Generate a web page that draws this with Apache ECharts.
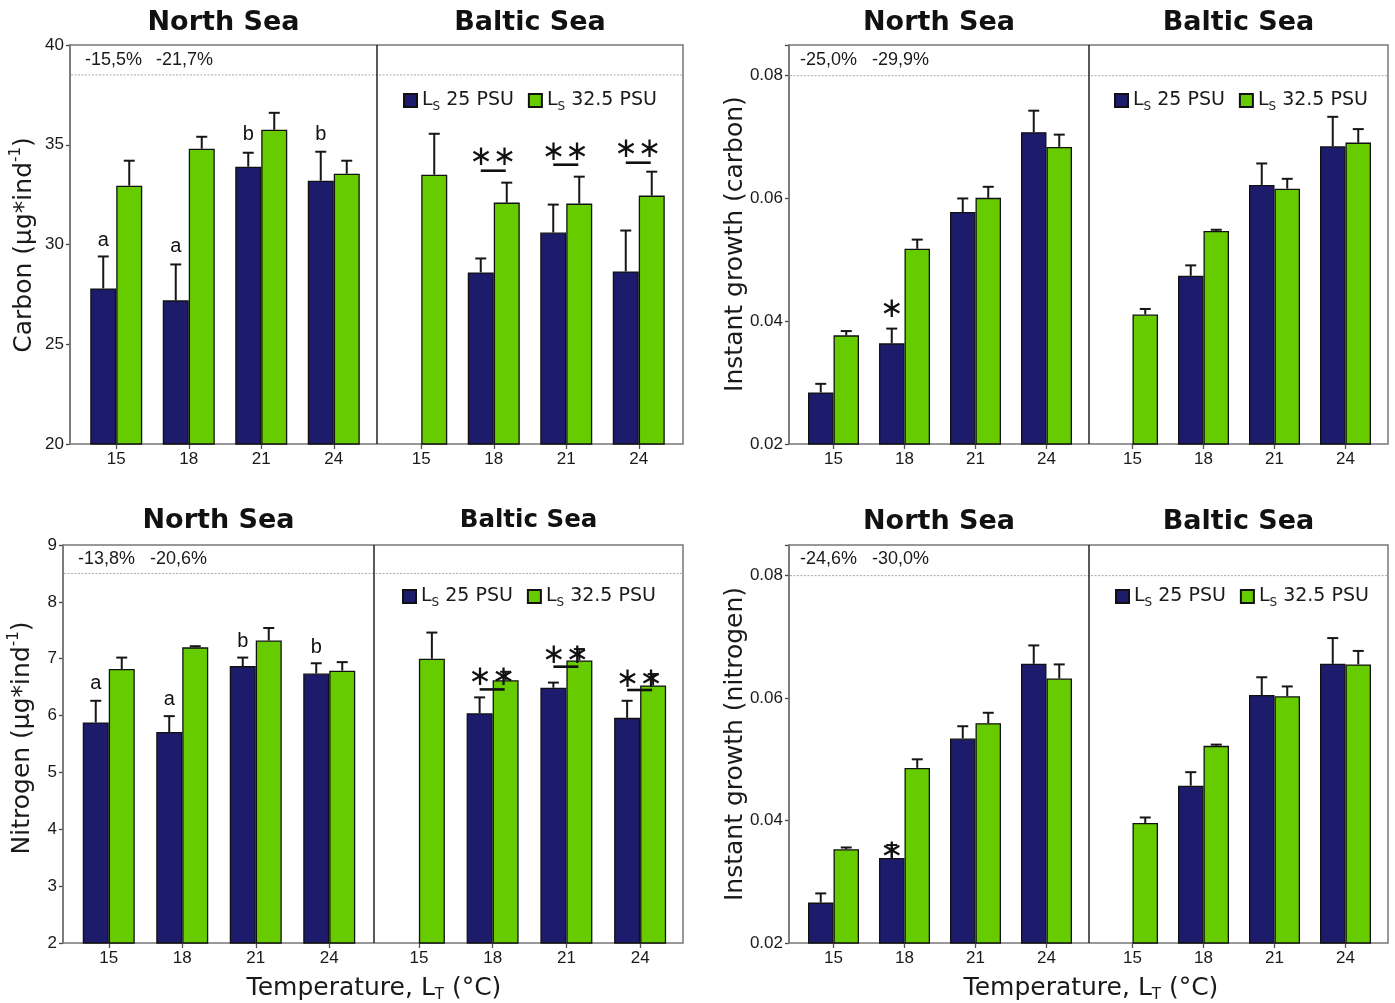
<!DOCTYPE html>
<html><head><meta charset="utf-8">
<script src="https://cdn.jsdelivr.net/npm/echarts@6/dist/echarts.min.js"></script>
<style>html,body{margin:0;padding:0;background:#fff}#c{width:1395px;height:1003px}</style>
</head><body><div id="c"></div>
<script>
// ---------------- DATA ----------------
const categories = ['15', '18', '21', '24'];

// Carbon (µg*ind-1): means and SE (whisker length)
const carbonNorth25 = [27.8, 27.2, 33.9, 33.2];
const carbonNorth25Se = [1.6, 1.8, 0.7, 1.45];
const carbonNorth32 = [32.95, 34.8, 35.75, 33.55];
const carbonNorth32Se = [1.25, 0.6, 0.85, 0.65];
const carbonBaltic25 = [null, 28.6, 30.6, 28.65];
const carbonBaltic25Se = [null, 0.7, 1.4, 2.05];
const carbonBaltic32 = [33.5, 32.1, 32.05, 32.45];
const carbonBaltic32Se = [2.05, 1.0, 1.35, 1.2];

// Instant growth (carbon)
const growthCNorth25 = [0.0284, 0.0364, 0.0578, 0.0708];
const growthCNorth25Se = [0.0014, 0.0024, 0.0022, 0.0035];
const growthCNorth32 = [0.0377, 0.0518, 0.0601, 0.0684];
const growthCNorth32Se = [0.0007, 0.0015, 0.0018, 0.0020];
const growthCBaltic25 = [null, 0.0474, 0.0622, 0.0685];
const growthCBaltic25Se = [null, 0.0017, 0.0035, 0.0048];
const growthCBaltic32 = [0.0411, 0.0547, 0.0616, 0.0691];
const growthCBaltic32Se = [0.0009, 0.0002, 0.0016, 0.0022];

// Nitrogen (µg*ind-1)
const nitroNorth25 = [5.88, 5.71, 6.87, 6.74];
const nitroNorth25Se = [0.38, 0.28, 0.15, 0.18];
const nitroNorth32 = [6.82, 7.20, 7.32, 6.79];
const nitroNorth32Se = [0.20, 0.02, 0.22, 0.15];
const nitroBaltic25 = [null, 6.04, 6.49, 5.96];
const nitroBaltic25Se = [null, 0.28, 0.09, 0.30];
const nitroBaltic32 = [7.00, 6.62, 6.97, 6.53];
const nitroBaltic32Se = [0.46, 0.15, 0.20, 0.20];

// Instant growth (nitrogen)
const growthNNorth25 = [0.0266, 0.0339, 0.0534, 0.0656];
const growthNNorth25Se = [0.0015, 0.0021, 0.0020, 0.0030];
const growthNNorth32 = [0.0353, 0.0486, 0.0559, 0.0632];
const growthNNorth32Se = [0.0003, 0.0014, 0.0017, 0.0023];
const growthNBaltic25 = [null, 0.0457, 0.0605, 0.0656];
const growthNBaltic25Se = [null, 0.0022, 0.0029, 0.0042];
const growthNBaltic32 = [0.0396, 0.0522, 0.0603, 0.0655];
const growthNBaltic32Se = [0.0009, 0.0002, 0.0016, 0.0022];

// axis ranges [min, max, interval]
const carbonAxis = [20, 40, 5];
const growthCAxis = [0.02, 0.085, 0.02];
const nitroAxis = [2, 9, 1];
const growthNAxis = [0.02, 0.085, 0.02];

// annotations (values in data units)
const carbonLetters = ['a', 'a', 'b', 'b'];
const carbonLetterY = [30.2, 29.9, 35.5, 35.5];
const carbonStarY = [null, 34.35, 34.6, 34.75];
const carbonBarY = [null, 33.7, 34.0, 34.1];
const growthCStarY = [null, 0.0418, null, null];
const nitroLetters = ['a', 'a', 'b', 'b'];
const nitroLetterY = [6.57, 6.28, 7.31, 7.20];
const nitroStarY = [null, 6.66, 7.05, 6.63];
const nitroBarY = [null, 6.46, 6.86, 6.45];
const growthNStarY = [null, 0.0349, null, null];

const percentLabels = [['-15,5%', '-21,7%'], ['-25,0%', '-29,9%'], ['-13,8%', '-20,6%'], ['-24,6%', '-30,0%']];
const refLineValues = [38.5, 0.08, 8.5, 0.08];
const regionTitles = ['North Sea', 'Baltic Sea'];
const seriesNames = ['Ls25', 'Ls32'];
const legendTexts = { Ls25: ' 25 PSU', Ls32: ' 32.5 PSU' };

// ---------------- LAYOUT / STYLE ----------------
const NAVY = '#1c1b6c', GREEN = '#66cc00';
const NARROW = "'Liberation Sans Narrow', 'Liberation Sans', Arial, sans-serif";
const SANS = "'DejaVu Sans', Verdana, sans-serif";
const ARIAL = "'Liberation Sans', Arial, sans-serif";

const panels = [
  { frame: [70, 45, 613, 399], divider: 377, grids: [[80, 290], [385, 290]], bw: 26, yOff: 10,
    axis: carbonAxis, fmt: v => String(v),
    data: [[carbonNorth25, carbonNorth25Se, carbonNorth32, carbonNorth32Se], [carbonBaltic25, carbonBaltic25Se, carbonBaltic32, carbonBaltic32Se]],
    letters: [carbonLetters, carbonLetterY], stars: [carbonStarY, carbonBarY, '∗∗'], single: null,
    yName: ['Carbon (µg*ind', '-1', ')'], yNamePos: [24, 245], titleSize: [27, 27], titleY: 23,
    pct: percentLabels[0], pctPos: [[85, 60], [156, 60]], ref: refLineValues[0], legend: [403, 91], xName: null },
  { frame: [789, 45, 599, 399], divider: 1089, grids: [[798, 284], [1097, 284]], bw: 25.5, yOff: 9,
    axis: growthCAxis, fmt: v => v.toFixed(2),
    data: [[growthCNorth25, growthCNorth25Se, growthCNorth32, growthCNorth32Se], [growthCBaltic25, growthCBaltic25Se, growthCBaltic32, growthCBaltic32Se]],
    letters: null, stars: null, single: growthCStarY,
    yName: ['Instant growth (carbon)'], yNamePos: [735, 244], titleSize: [27, 27], titleY: 23,
    pct: percentLabels[1], pctPos: [[800, 60], [872, 60]], ref: refLineValues[1], legend: [1114, 91], xName: null },
  { frame: [63, 545, 620, 398], divider: 374, grids: [[72, 294], [382, 295]], bw: 26, yOff: 9,
    axis: nitroAxis, fmt: v => String(v),
    data: [[nitroNorth25, nitroNorth25Se, nitroNorth32, nitroNorth32Se], [nitroBaltic25, nitroBaltic25Se, nitroBaltic32, nitroBaltic32Se]],
    letters: [nitroLetters, nitroLetterY], stars: [nitroStarY, nitroBarY, '∗∗'], single: null,
    yName: ['Nitrogen (µg*ind', '-1', ')'], yNamePos: [22, 738], titleSize: [27, 24.5], titleY: 521,
    pct: percentLabels[2], pctPos: [[78, 559], [150, 559]], ref: refLineValues[2], legend: [402, 587], xName: [374, 988] },
  { frame: [789, 545, 599, 398], divider: 1089, grids: [[798, 284], [1097, 284]], bw: 25.5, yOff: 9,
    axis: growthNAxis, fmt: v => v.toFixed(2),
    data: [[growthNNorth25, growthNNorth25Se, growthNNorth32, growthNNorth32Se], [growthNBaltic25, growthNBaltic25Se, growthNBaltic32, growthNBaltic32Se]],
    letters: null, stars: null, single: growthNStarY,
    yName: ['Instant growth (nitrogen)'], yNamePos: [735, 744], titleSize: [27, 27], titleY: 522,
    pct: percentLabels[3], pctPos: [[800, 559], [872, 559]], ref: refLineValues[3], legend: [1115, 587], xName: [1091, 988] }
];

// ---------------- BUILD ----------------
const grid = [], xAxis = [], yAxis = [], series = [], legend = [];

function errSeries(gi, means, ses, side, bw) {
  const data = [];
  means.forEach((m, i) => { if (m != null) data.push([i, m, m + ses[i]]); });
  return {
    type: 'custom', name: 'err', xAxisIndex: gi, yAxisIndex: gi, z: 4, silent: true,
    encode: { x: 0, y: [1, 2] }, data,
    renderItem: (params, api) => {
      const p0 = api.coord([api.value(0), api.value(1)]);
      const p1 = api.coord([api.value(0), api.value(2)]);
      const x = p0[0] + side * bw / 2;
      const st = { stroke: '#161616', lineWidth: 2 };
      return { type: 'group', children: [
        { type: 'line', shape: { x1: x, y1: p0[1], x2: x, y2: p1[1] }, style: st },
        { type: 'line', shape: { x1: x - 5.5, y1: p1[1], x2: x + 5.5, y2: p1[1] }, style: st }
      ] };
    }
  };
}

function textSeries(gi, ys, texts, dx, font, size, weight) {
  const data = [];
  ys.forEach((v, i) => {
    if (v != null) data.push({ value: [i, v], label: { formatter: Array.isArray(texts) ? texts[i] : texts } });
  });
  return {
    type: 'scatter', name: 'ann', xAxisIndex: gi, yAxisIndex: gi, symbolSize: 0, silent: true, z: 6,
    itemStyle: { opacity: 1, color: '#111' },
    data,
    label: { show: true, position: 'inside', offset: [dx, 0], color: '#111', opacity: 1,
      textBorderWidth: 0, fontFamily: font, fontSize: size, fontWeight: weight || 'normal' }
  };
}

function underlineSeries(gi, ys) {
  const data = [];
  ys.forEach((v, i) => { if (v != null) data.push([i, v]); });
  return {
    type: 'custom', name: 'ann', xAxisIndex: gi, yAxisIndex: gi, z: 6, silent: true,
    encode: { x: 0, y: 1 }, data,
    renderItem: (params, api) => {
      const p = api.coord([api.value(0), api.value(1)]);
      return { type: 'line', shape: { x1: p[0] - 13, y1: p[1], x2: p[0] + 12, y2: p[1] }, style: { stroke: '#111', lineWidth: 2.6 } };
    }
  };
}

panels.forEach((P, pi) => {
  [0, 1].forEach(s => {
    const gi = pi * 2 + s;
    const [gl, gw] = P.grids[s];
    grid.push({ left: gl, top: P.frame[1], width: gw, height: P.frame[3] });
    xAxis.push({
      gridIndex: gi, type: 'category', data: categories,
      axisLine: { show: false },
      axisTick: { show: true, alignWithLabel: true, length: 5, lineStyle: { color: '#555', width: 1.3 } },
      axisLabel: { margin: 7, color: '#1a1a1a', fontFamily: NARROW, fontSize: 17 }
    });
    yAxis.push({
      gridIndex: gi, type: 'value', min: P.axis[0], max: P.axis[1], interval: P.axis[2],
      show: s === 0, offset: P.yOff,
      axisLine: { show: true, lineStyle: { color: '#666', width: 1.5 } },
      axisTick: { show: true, length: 4, lineStyle: { color: '#444', width: 1.3 } },
      axisLabel: { margin: 6, color: '#1a1a1a', fontFamily: NARROW, fontSize: 17,
        formatter: v => (Math.abs(v / P.axis[2] - Math.round(v / P.axis[2])) < 1e-6 ? P.fmt(v) : '') },
      splitLine: { show: false }
    });
    const [m25, se25, m32, se32] = P.data[s];
    series.push({ type: 'bar', name: seriesNames[0], xAxisIndex: gi, yAxisIndex: gi, data: m25,
      barWidth: P.bw, barGap: '0%', itemStyle: { color: NAVY, borderColor: '#111', borderWidth: 1.3 } });
    series.push({ type: 'bar', name: seriesNames[1], xAxisIndex: gi, yAxisIndex: gi, data: m32,
      barWidth: P.bw, barGap: '0%', itemStyle: { color: GREEN, borderColor: '#111', borderWidth: 1.3 } });
    series.push(errSeries(gi, m25, se25, -1, P.bw));
    series.push(errSeries(gi, m32, se32, 1, P.bw));
    if (s === 0 && P.letters) series.push(textSeries(gi, P.letters[1], P.letters[0], -P.bw / 2, ARIAL, 20));
    if (s === 1 && P.stars) {
      series.push(textSeries(gi, P.stars[0], P.stars[2], -1, SANS, 28, 'normal'));
      series.push(underlineSeries(gi, P.stars[1]));
    }
    if (s === 0 && P.single) series.push(textSeries(gi, P.single, '∗', -P.bw / 2, SANS, 28, 'normal'));
  });
  legend.push({
    left: P.legend[0], top: P.legend[1], data: seriesNames, icon: 'rect', itemWidth: 13, itemHeight: 13,
    itemGap: 14, selectedMode: false, padding: 0,
    formatter: n => '{l|L}{s|S}{t|' + legendTexts[n] + '}',
    textStyle: { fontFamily: SANS, fontSize: 19, color: '#1a1a1a',
      rich: { l: { fontFamily: SANS, fontSize: 19, lineHeight: 24, color: '#1a1a1a' },
              t: { fontFamily: SANS, fontSize: 19, lineHeight: 24, color: '#1a1a1a' },
              s: { fontFamily: SANS, fontSize: 12, lineHeight: 12, color: '#1a1a1a', verticalAlign: 'bottom' } } }
  });
});

const chart = echarts.init(document.getElementById('c'), null, { renderer: 'canvas' });
chart.setOption({ animation: false, backgroundColor: '#fff', grid, xAxis, yAxis, series, legend });

// ---------------- FRAMES & TEXT ----------------
const graphic = [];
panels.forEach((P, pi) => {
  const [fx, fy, fw, fh] = P.frame;
  graphic.push({ type: 'rect', shape: { x: fx, y: fy, width: fw, height: fh }, style: { fill: 'none', stroke: '#777', lineWidth: 1.5 }, z: 1, silent: true });
  graphic.push({ type: 'line', shape: { x1: P.divider, y1: fy, x2: P.divider, y2: fy + fh }, style: { stroke: '#222', lineWidth: 1.5 }, z: 2, silent: true });
  const ry = chart.convertToPixel({ yAxisIndex: pi * 2 }, P.ref);
  graphic.push({ type: 'line', shape: { x1: fx + 1, y1: ry, x2: fx + fw - 1, y2: ry }, style: { stroke: '#aaa', lineWidth: 1, lineDash: [2, 1.5] }, z: 1, silent: true });
  const centers = [(fx + P.divider) / 2, (P.divider + fx + fw) / 2];
  regionTitles.forEach((t, k) => {
    graphic.push({ type: 'text', x: centers[k], y: P.titleY, silent: true,
      style: { text: t, fontFamily: SANS, fontWeight: 'bold', fontSize: P.titleSize[k], fill: '#111', align: 'center', verticalAlign: 'middle' } });
  });
  P.pct.forEach((t, k) => {
    graphic.push({ type: 'text', x: P.pctPos[k][0], y: P.pctPos[k][1], silent: true,
      style: { text: t, fontFamily: ARIAL, fontSize: 18, fill: '#1a1a1a', align: 'left', verticalAlign: 'middle' } });
  });
  const yText = P.yName.length === 3 ? '{a|' + P.yName[0] + '}{s|' + P.yName[1] + '}{a|' + P.yName[2] + '}' : '{a|' + P.yName[0] + '}';
  graphic.push({ type: 'text', x: P.yNamePos[0], y: P.yNamePos[1], rotation: Math.PI / 2, silent: true,
    style: { text: yText, align: 'center', verticalAlign: 'middle',
      rich: { a: { fontFamily: SANS, fontSize: 25, lineHeight: 30, fill: '#1a1a1a' },
              s: { fontFamily: SANS, fontSize: 15, lineHeight: 15, fill: '#1a1a1a', verticalAlign: 'top' } } } });
  if (P.xName) {
    graphic.push({ type: 'text', x: P.xName[0], y: P.xName[1], silent: true,
      style: { text: '{a|Temperature, L}{s|T}{a| (°C)}', align: 'center', verticalAlign: 'middle',
        rich: { a: { fontFamily: SANS, fontSize: 25, lineHeight: 30, fill: '#1a1a1a' },
                s: { fontFamily: SANS, fontSize: 15, lineHeight: 15, fill: '#1a1a1a', verticalAlign: 'bottom' } } } });
  }
});
chart.setOption({ graphic });
</script>
</body></html>
